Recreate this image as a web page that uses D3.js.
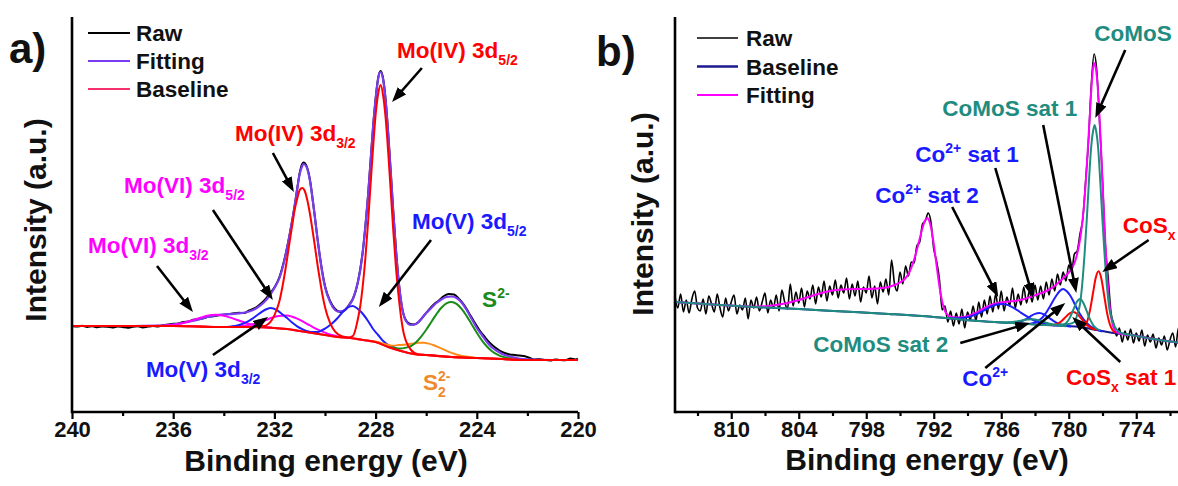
<!DOCTYPE html>
<html><head><meta charset="utf-8">
<script src="https://cdn.jsdelivr.net/npm/d3@7"></script>
<style>
html,body{margin:0;padding:0;background:#fff;}
svg{display:block;}
</style></head><body>
<svg id="chart" width="1178" height="486"></svg>
<script>
// ================= Panel (a): Mo 3d XPS =================
const tickMajorA = [240, 236, 232, 228, 224, 220];
const tickMinorA = [238, 234, 230, 226, 222];

const rawA = [[240,86],[239.8,85.5],[239.6,86.2],[239.4,85],[239.2,85.8],[239,84.8],[238.8,85.6],[238.6,85.2],[238.4,84.5],[238.2,85.6],[238,85],[237.8,84.2],[237.6,85.3],[237.4,85.8],[237.2,84.6],[237,85.4],[236.8,86],[236.6,85.5],[236.4,86.8],[236.2,87.5],[236,88.2],[235.8,88.6],[235.6,90],[235.4,90.6],[235.2,92.2],[235,93],[234.8,93.8],[234.6,95.4],[234.4,95.8],[234.2,96.8],[234,97.2],[233.8,97.9],[233.6,98.7],[233.4,99.2],[233.2,99],[233,101.5],[232.8,103.5],[232.6,107],[232.4,111.5],[232.2,118],[232,124.5],[231.8,135],[231.6,153],[231.4,177],[231.2,206],[231.1,223],[231,239],[230.9,248],[230.85,249.5],[230.8,249],[230.7,244],[230.6,233],[230.5,215],[230.4,195],[230.3,174],[230.2,155],[230.1,139],[230,126],[229.8,111],[229.6,103],[229.4,100],[229.2,102],[229,109],[228.9,113],[228.7,130],[228.5,162],[228.3,216],[228.1,285],[228,313],[227.9,334],[227.8,341],[227.7,333],[227.6,311],[227.5,278],[227.3,200],[227.1,134],[226.9,98],[226.7,89],[226.5,87.5],[226.3,90],[226.1,96],[225.9,102],[225.7,107.5],[225.5,111.5],[225.3,116],[225.1,118],[224.9,117.5],[224.7,113],[224.5,107],[224.3,98.5],[224.1,90],[223.9,82],[223.7,75.5],[223.5,69.5],[223.3,65],[223.1,61.5],[222.9,59],[222.7,57.5],[222.5,57],[222.3,56.5],[222.1,55.8],[221.9,54],[221.7,52.5],[221.5,52.8],[221.3,52],[221.1,51.5],[220.9,52.5],[220.7,52],[220.5,51.8],[220.3,53.5],[220.1,52.6],[220,53]];

const fitA = [[240,86],[238,86],[236.6,86.3],[236.2,87],[235.8,88.2],[235.4,90.2],[235,92.4],[234.6,95.2],[234.2,97.2],[233.8,97.8],[233.4,98.6],[233,100.5],[232.7,104],[232.4,110],[232.2,116],[232,124],[231.8,134],[231.6,152],[231.4,177],[231.2,206],[231.1,223],[231,238],[230.9,246],[230.85,248],[230.75,246],[230.6,232],[230.5,215],[230.4,195],[230.3,174],[230.2,155],[230.1,138],[230,125],[229.8,110],[229.6,102],[229.5,100.5],[229.3,101],[229.1,105],[228.9,113],[228.7,130],[228.6,143],[228.5,162],[228.4,187],[228.3,216],[228.2,250],[228.1,285],[228,313],[227.9,333],[227.85,339],[227.8,340],[227.7,332],[227.6,311],[227.5,278],[227.4,240],[227.3,200],[227.2,163],[227.1,134],[227,112],[226.9,98],[226.8,91],[226.6,87],[226.4,88],[226.2,93],[226,99],[225.8,104],[225.6,109],[225.4,112.5],[225.2,115],[225,115.5],[224.8,114],[224.6,109.5],[224.4,102],[224.2,93],[224,84],[223.8,77],[223.6,70],[223.4,64.5],[223.2,61],[223,58],[222.6,55],[222.2,53],[221,52],[220,52]];

const baseA = [[240,86],[236,86],[234,85],[233,85],[232,84],[231.5,83],[231,81],[230.5,79],[230,77],[229.5,75],[229,74],[228.5,72],[228,70],[227.5,65],[227,61],[226.5,58],[226,57],[225,55],[224,54],[223,53],[222,52],[220,52]];

const moIV52 = [[229.1,74.5],[228.9,76],[228.7,93],[228.6,107],[228.5,128],[228.4,155],[228.3,189],[228.2,227],[228.1,264],[228,297],[227.9,318],[227.8,327],[227.7,316],[227.6,293],[227.5,259],[227.4,220],[227.3,181],[227.2,146],[227.1,118],[227,96],[226.9,80],[226.8,71],[226.6,62],[226.3,57.5]];
const moIV32 = [[232.4,86],[232.3,87],[232.1,92],[231.9,103],[231.8,111],[231.7,123],[231.6,137],[231.5,153],[231.4,170],[231.3,186],[231.2,202],[231.1,213],[231,222],[230.9,224],[230.8,221],[230.7,212],[230.6,199],[230.5,183],[230.4,166],[230.3,148],[230.2,132],[230.1,117],[230,105],[229.9,96],[229.7,84],[229.5,78],[229.3,75.5]];
const moV52 = [[230.7,80],[230.5,80],[230.3,80],[230.1,82],[229.9,85],[229.7,89],[229.5,94],[229.3,100],[229.1,104.5],[228.9,106],[228.7,103],[228.5,98],[228.3,91],[228.1,83],[227.9,77],[227.7,71],[227.5,67],[227.3,65],[227.1,62]];
const moV32 = [[233.9,85],[233.7,85.6],[233.5,86.3],[233.3,87.7],[233.1,89.8],[232.9,92.8],[232.7,96.5],[232.5,100.2],[232.3,103],[232.15,104],[231.9,101.9],[231.7,98],[231.5,94],[231.3,89.5],[231.1,85.7],[230.9,82.9],[230.7,80.8],[230.5,79.5]];
const moVI52 = [[233.7,85.3],[233.5,85.6],[233.3,86.1],[233.1,86.8],[232.9,87.5],[232.7,88.8],[232.5,90.4],[232.3,92.3],[232.1,94.2],[231.9,95.7],[231.7,96.3],[231.5,96.5],[231.3,95.3],[231.1,93.3],[230.9,90.8],[230.7,88],[230.5,85.2],[230.3,82.6],[230.1,80.3],[229.9,78.4],[229.7,76.9],[229.5,75.6],[229.3,74.9]];
const moVI32 = [[236.7,86.1],[236.5,86.3],[236.3,86.5],[236.1,87],[235.9,87.6],[235.7,88.5],[235.5,89.7],[235.3,91.2],[235.1,92.9],[234.9,94.5],[234.7,96],[234.5,96.9],[234.3,97.2],[234.1,96.7],[233.9,95.6],[233.7,94.1],[233.5,92.3],[233.3,90.5],[233.1,88.9],[232.9,87.5],[232.7,86.3],[232.5,85.5],[232.3,84.8],[232.1,84.4]];
const sulfide = [[227.4,64.8],[227.2,63.8],[227,63.4],[226.8,64.4],[226.6,66],[226.4,69.7],[226.2,75.3],[226,82.2],[225.8,90],[225.6,97.7],[225.4,104.3],[225.2,108.7],[225,110],[224.8,108.1],[224.6,103.1],[224.4,95.9],[224.2,87.6],[224,79.2],[223.8,71.7],[223.6,65.5],[223.4,60.8],[223.2,57.6],[223,55.4],[222.8,54.1],[222.6,53.2]];
const disulfide = [[228.1,70.7],[227.9,69.7],[227.7,68.2],[227.5,67.1],[227.3,66.3],[227.1,66.9],[226.9,67.2],[226.7,67.9],[226.5,68.4],[226.3,69.2],[226.1,69.2],[225.9,68.4],[225.7,66.8],[225.5,64.7],[225.3,62.4],[225.1,60.1],[224.9,58.2],[224.7,56.8],[224.5,55.7],[224.3,55],[224.1,54.4]];

const legendA = ["Raw", "Fitting", "Baseline"];
// annotations (text anchor / arrow tail & head in data units: eV, a.u.)
const labelsA = [
  {t:"Mo(IV) 3d_{5/2}", at:[227.15,354], c:"#ff0000"},
  {t:"Mo(IV) 3d_{3/2}", at:[233.56,271], c:"#ff0000"},
  {t:"Mo(VI) 3d_{5/2}", at:[237.94,219], c:"#ff00ff"},
  {t:"Mo(VI) 3d_{3/2}", at:[239.37,159], c:"#ff00ff"},
  {t:"Mo(V) 3d_{3/2}", at:[237.08,35], c:"#1a1aff"},
  {t:"Mo(V) 3d_{5/2}", at:[226.56,183], c:"#1a1aff"},
  {t:"S^{2-}", at:[223.79,105], c:"#1a8a1a"},
  {t:"S_{2}^{2-}", at:[226.13,22], c:"#f0892a"}
];
const arrowsA = [
  {from:[226.17,344], to:[227.35,310]},
  {from:[232.06,259], to:[231.23,220]},
  {from:[234.43,202], to:[232.06,112]},
  {from:[236.64,146], to:[235.22,100]},
  {from:[234.43,57],  to:[232.25,95]},
  {from:[225.81,172], to:[227.87,105]}
];

// ================= Panel (b): Co 2p XPS =================
const tickMajorB = [810, 804, 798, 792, 786, 780, 774];
const tickMinorB = [813, 807, 801, 795, 789, 783, 777, 771];

const rawB = [[815,116],[814.75,104],[814.5,118],[814.25,100],[814,112],[813.75,99],[813.5,113],[813.25,121],[813,104],[812.75,101],[812.5,113],[812.25,98],[812,116],[811.75,108],[811.5,100],[811.25,118],[811,104],[810.75,95],[810.5,114],[810.25,101],[810,110],[809.75,117],[809.5,98],[809.25,107],[809,102],[808.75,114],[808.5,93],[808.25,112],[808,104],[807.75,115],[807.5,101],[807.25,110],[807,119],[806.75,99],[806.5,112],[806.25,104],[806,117],[805.75,101],[805.5,122],[805.25,110],[805,103],[804.75,128],[804.5,106],[804.25,120],[804,109],[803.75,124],[803.5,105],[803.25,121],[803,113],[802.75,127],[802.5,108],[802.25,125],[802,115],[801.75,131],[801.5,111],[801.25,126],[801,117],[800.75,132],[800.5,114],[800.25,127],[800,119],[799.75,134],[799.5,113],[799.25,128],[799,116],[798.75,131],[798.5,110],[798.25,125],[798,119],[797.75,136],[797.5,114],[797.25,126],[797,108],[796.75,130],[796.5,120],[796.25,133],[796,117],[795.75,152],[795.5,129],[795.25,121],[795,140],[794.75,128],[794.5,146],[794.25,136],[794,150],[793.75,149],[793.5,166],[793.25,170],[793,188],[792.75,191],[792.5,199],[792.25,190],[792,163],[791.75,151],[791.5,133],[791.25,102],[791,106],[790.75,90],[790.5,101],[790.25,86],[790,99],[789.75,88],[789.5,103],[789.25,84],[789,100],[788.75,92],[788.5,106],[788.25,91],[788,110],[787.75,95],[787.5,112],[787.25,98],[787,116],[786.75,100],[786.5,118],[786.25,103],[786,121],[785.75,101],[785.5,115],[785.25,106],[785,124],[784.75,104],[784.5,118],[784.25,107],[784,125],[783.75,109],[783.5,121],[783.25,110],[783,127],[782.75,112],[782.5,126],[782.25,113],[782,130],[781.75,117],[781.5,133],[781.25,121],[781,138],[780.75,127],[780.5,140],[780.25,131],[780,147],[779.75,140],[779.5,158],[779.25,161],[779,178],[778.75,193],[778.5,231],[778.25,270],[778,326],[777.75,358],[777.5,340],[777.25,288],[777,232],[776.75,167],[776.5,135],[776.25,100],[776,88],[775.75,76],[775.5,84],[775.25,70],[775,81],[774.75,72],[774.5,83],[774.25,69],[774,79],[773.75,71],[773.5,82],[773.25,66],[773,77],[772.75,70],[772.5,78],[772.25,64],[772,74],[771.75,67],[771.5,76],[771.25,62],[771,72],[770.75,79],[770.5,65],[770.25,84],[770,70]];

const fitB = [[815,110],[811,107],[808,105.3],[807,105.8],[806,107],[805,109],[804,112],[803,115.5],[802,119],[801,121.5],[800,122.5],[799,123],[798,123],[797,123.5],[796,125],[795.5,127],[795,129.5],[794.5,134],[794.2,139],[793.9,147],[793.6,158],[793.3,171],[793,184],[792.8,191],[792.6,194],[792.4,191],[792.2,182],[792,168],[791.8,151],[791.6,134],[791.4,119],[791.2,108],[791,101],[790.7,96.5],[790.3,94.8],[789.8,94.5],[789.3,95],[788.8,96.5],[788.3,99],[787.8,102],[787.3,105],[786.8,107.5],[786.3,109],[785.8,110],[785.3,110.5],[784.8,111],[784.3,112],[783.8,113.5],[783.3,115.5],[782.8,117.5],[782.3,119.5],[781.9,121.5],[781.5,124],[781.1,127.5],[780.7,131.5],[780.3,136],[780,139.5],[779.7,144],[779.4,152],[779.1,166],[778.9,180],[778.7,200],[778.5,228],[778.3,264],[778.1,302],[777.95,330],[777.85,343],[777.75,349],[777.65,347],[777.5,335],[777.35,312],[777.2,280],[777.05,243],[776.9,205],[776.75,170],[776.6,140],[776.45,116],[776.3,100],[776.15,90],[776,84],[775.7,79.5],[775.3,78],[774.5,77],[772.5,73],[770,69]];

const baseB = [[815,110],[811,107],[808,105],[804,103],[800,100.5],[796,98],[792,95],[790,93],[788,91],[785,89],[782,87],[779,85],[777.5,82],[776,79],[774.5,77],[772.5,73],[770,69]];

const co2sat2 = [[790.9,94],[790.4,93.8],[789.9,93.7],[789.4,94.1],[788.9,95.1],[788.4,96.9],[787.9,99.4],[787.4,102.5],[786.9,105.5],[786.4,107.5],[785.9,108.1],[785.4,106.9],[784.9,104.1],[784.4,100.5],[783.9,96.8],[783.4,93.4],[782.9,90.8],[782.4,89],[781.9,87.7],[781.4,87],[780.9,86.4]];
const co2sat1 = [[785.4,89.4],[785,89.3],[784.6,89.7],[784.2,90.9],[783.8,92.9],[783.4,95.7],[783,98.1],[782.6,98.9],[782.2,97.5],[781.8,94.6],[781.4,91.3],[781,88.7],[780.6,87.1],[780.2,86.1],[779.8,85.6]];
const co2main = [[783.5,88],[783,89.5],[782.6,92],[782.3,95],[782,99.5],[781.7,105],[781.4,111],[781.1,116.5],[780.8,121],[780.5,123],[780.2,121],[779.9,117],[779.6,111],[779.3,104],[779,98],[778.7,93],[778.4,89],[778.1,86],[777.8,84],[777.4,82],[777,80.5]];
const comosSat2 = [[786.2,89.85],[785.7,89.7],[785.2,89.8],[784.7,90.4],[784.2,91.5],[783.7,92.5],[783.2,92.8],[782.7,91.9],[782.2,90.1],[781.7,88.4],[781.2,87.2],[780.7,86.3],[780.2,85.85]];
const comosSat1 = [[780.8,86.2],[780.5,86.9],[780.2,89.3],[779.9,94.4],[779.6,102.2],[779.3,109.7],[779,113],[778.7,109.1],[778.4,100.8],[778.1,92.3],[777.8,86.4],[777.5,83.2],[777.2,81.7]];
const comosMain = [[780,88],[779.5,90],[779.2,99],[779,108],[778.8,128],[778.6,157],[778.4,192],[778.2,232],[778,266],[777.85,280],[777.7,287],[777.55,280],[777.4,266],[777.2,231],[777,191],[776.8,155],[776.6,125],[776.4,104],[776.2,94],[775.9,85],[775.5,80],[775,78]];
const cosxMain = [[778.85,84.7],[778.6,86.2],[778.35,91.1],[778.1,102.4],[777.85,118.5],[777.6,134.3],[777.35,140.7],[777.1,133.3],[776.85,116.5],[776.6,99.4],[776.35,87.7],[776.1,81.8],[775.85,79.3]];
const cosxSat1 = [[781.7,87],[781.35,87.1],[781,88.3],[780.65,90.8],[780.3,94.7],[779.95,98.4],[779.6,99.9],[779.25,98],[778.9,93.6],[778.55,88.8],[778.2,85.4],[777.85,83.3],[777.5,82.2]];

const legendB = ["Raw", "Baseline", "Fitting"];
const labelsB = [
  {t:"CoMoS", at:[777.73,371], c:"#1f8c80"},
  {t:"CoMoS sat 1", at:[791.24,296], c:"#1f8c80"},
  {t:"Co^{2+} sat 1", at:[793.64,250], c:"#1a1aff"},
  {t:"Co^{2+} sat 2", at:[797.2,209], c:"#1a1aff"},
  {t:"CoS_{x}", at:[775.2,179], c:"#ff0000"},
  {t:"CoMoS sat 2", at:[802.71,60], c:"#1f8c80"},
  {t:"Co^{2+}", at:[789.47,26], c:"#1a1aff"},
  {t:"CoS_{x} sat 1", at:[780.25,27], c:"#ff0000"}
];
const arrowsB = [
  {from:[774.98,362], to:[777.64,294]},
  {from:[782.27,287], to:[779.33,119]},
  {from:[786.53,244], to:[783.16,114]},
  {from:[790.36,205], to:[786.27,115]},
  {from:[772.9,172],  to:[777.02,140]},
  {from:[789.64,69],  to:[783.42,89]},
  {from:[787.42,44],  to:[780.31,109]},
  {from:[775.42,50],  to:[779.69,95]}
];

// ================= Drawing =================
const FONT = '"Liberation Sans", Arial, Helvetica, sans-serif';
const svg = d3.select('#chart').attr('font-family', FONT).attr('font-weight', 'bold');
svg.append('rect').attr('width', 1178).attr('height', 486).attr('fill', '#fff');

const defs = svg.append('defs');
defs.append('marker').attr('id', 'ah').attr('viewBox', '0 0 15 11')
  .attr('markerWidth', 15).attr('markerHeight', 11).attr('refX', 7).attr('refY', 5.5)
  .attr('markerUnits', 'userSpaceOnUse').attr('orient', 'auto')
  .append('path').attr('d', 'M0,0 L15,5.5 L0,11 Z').attr('fill', '#000');

function rich(g, str, px, py, size, color) {
  const t = g.append('text').attr('x', px).attr('y', py).attr('fill', color)
    .attr('font-size', size).attr('font-weight', 'bold');
  const parts = str.split(/(_\{[^}]*\}|\^\{[^}]*\})/).filter(s => s.length);
  let cur = 0, lastSub = null;
  parts.forEach(p => {
    let txt = p, off = 0, fs = size;
    const isSub = p.startsWith('_{'), isSup = p.startsWith('^{');
    if (isSub) { txt = p.slice(2, -1); off = 0.3 * size; fs = Math.round(size * 0.62); }
    if (isSup) { txt = p.slice(2, -1); off = -0.42 * size; fs = Math.round(size * 0.62); }
    const ts = t.append('tspan').attr('font-size', fs).attr('dy', off - cur).text(txt);
    if (isSup && lastSub) ts.attr('dx', -lastSub.node().getComputedTextLength());
    lastSub = isSub ? ts : null;
    cur = off;
  });
  return t;
}

function withBackground(comp, base) {
  const hi = d3.max(comp, d => d[0]), lo = d3.min(comp, d => d[0]);
  return base.filter(d => d[0] > hi).concat(comp, base.filter(d => d[0] < lo))
    .sort((a, b) => b[0] - a[0]);
}

function arrow(g, x, y, a) {
  const x1 = x(a.from[0]), y1 = y(a.from[1]), x2 = x(a.to[0]), y2 = y(a.to[1]);
  const dx = x2 - x1, dy = y2 - y1, L = Math.hypot(dx, dy);
  g.append('line').attr('x1', x1).attr('y1', y1)
    .attr('x2', x2 - dx / L * 8).attr('y2', y2 - dy / L * 8)
    .attr('stroke', '#000').attr('stroke-width', 2.6).attr('marker-end', 'url(#ah)');
}

function axes(g, x, top, bottom, left, right, majors, minors) {
  const ax = g.append('g').attr('transform', `translate(0,${bottom})`)
    .call(d3.axisBottom(x).tickValues(majors).tickSize(7).tickSizeOuter(0).tickPadding(2).tickFormat(d3.format('d')));
  ax.select('.domain').remove();
  ax.selectAll('line').attr('stroke', '#000').attr('stroke-width', 2.2);
  ax.selectAll('text').attr('font-size', 22).attr('font-weight', 'bold').attr('fill', '#111').attr('font-family', FONT);
  const mn = g.append('g').attr('transform', `translate(0,${bottom})`)
    .call(d3.axisBottom(x).tickValues(minors).tickSize(4).tickSizeOuter(0).tickFormat(''));
  mn.select('.domain').remove();
  mn.selectAll('line').attr('stroke', '#000').attr('stroke-width', 2.2);
  g.append('line').attr('x1', left).attr('x2', right).attr('y1', bottom).attr('y2', bottom)
    .attr('stroke', '#000').attr('stroke-width', 2.6);
  g.append('line').attr('x1', left).attr('x2', left).attr('y1', top).attr('y2', bottom + 1.3)
    .attr('stroke', '#000').attr('stroke-width', 2.6);
}

function path(g, data, line, color, w) {
  g.append('path').datum(data).attr('d', line).attr('fill', 'none')
    .attr('stroke', color).attr('stroke-width', w).attr('stroke-linejoin', 'round');
}

// ---------- panel a ----------
{
  const top = 17, bottom = 412;
  const x = d3.scaleLinear().domain([240, 220]).range([72, 578]);
  const y = d3.scaleLinear().domain([0, 394]).range([bottom, bottom - 394]);
  const line = d3.line().x(d => x(d[0])).y(d => y(d[1])).curve(d3.curveMonotoneX);
  const g = svg.append('g');

  path(g, rawA, line, '#000', 2);
  path(g, baseA, line, '#f7306e', 2.2);
  path(g, fitA, line, '#7a3cf0', 2.2);
  path(g, moVI32, line, '#ff00ff', 2);
  path(g, moVI52, line, '#ff00ff', 2);
  path(g, moV32, line, '#1e1eff', 2);
  path(g, moV52, line, '#1e1eff', 2);
  path(g, disulfide, line, '#ff8c1a', 2);
  path(g, sulfide, line, '#1a8c1a', 2);
  path(g, withBackground(moIV32, baseA), line, '#ff0000', 2);
  path(g, withBackground(moIV52, baseA), line, '#ff0000', 2);

  axes(g, x, top, bottom, 72, 578, tickMajorA, tickMinorA);

  const legCols = ['#000', '#7a3cf0', '#f7306e'];
  legendA.forEach((name, i) => {
    g.append('line').attr('x1', 88).attr('x2', 130).attr('y1', 33 + i * 28).attr('y2', 33 + i * 28)
      .attr('stroke', legCols[i]).attr('stroke-width', 2.2);
    g.append('text').attr('x', 136).attr('y', 41 + i * 28).attr('font-size', 22.5).attr('fill', '#111').text(name);
  });

  labelsA.forEach(l => rich(g, l.t, x(l.at[0]), y(l.at[1]), 22.5, l.c));
  arrowsA.forEach(a => arrow(g, x, y, a));

  g.append('text').attr('x', 326).attr('y', 471).attr('text-anchor', 'middle').attr('font-size', 30).attr('fill', '#111').text('Binding energy (eV)');
  g.append('text').attr('transform', 'translate(46,220) rotate(-90)').attr('text-anchor', 'middle').attr('font-size', 30).attr('fill', '#111').text('Intensity (a.u.)');
  g.append('text').attr('x', 9).attr('y', 63).attr('font-size', 42).attr('fill', '#111').text('a)');
}

// ---------- panel b ----------
{
  const top = 17, bottom = 412;
  const x = d3.scaleLinear().domain([815, 770]).range([675, 1181.25]);
  const y = d3.scaleLinear().domain([0, 394]).range([bottom, bottom - 394]);
  const line = d3.line().x(d => x(d[0])).y(d => y(d[1])).curve(d3.curveMonotoneX);
  const g = svg.append('g');

  path(g, rawB, line, '#000', 1.6);
  path(g, baseB, line, '#1a1a8c', 2);
  path(g, fitB, line, '#ff00ff', 2);
  path(g, co2sat2, line, '#1e1eff', 2);
  path(g, co2sat1, line, '#1e1eff', 2);
  path(g, co2main, line, '#1e1eff', 2);
  path(g, cosxSat1, line, '#ff0000', 2);
  path(g, cosxMain, line, '#ff0000', 2);
  path(g, comosSat2, line, '#1f8c80', 2);
  path(g, comosSat1, line, '#1f8c80', 2);
  path(g, withBackground(comosMain, baseB), line, '#1f8c80', 2);

  axes(g, x, top, bottom, 675, 1178, tickMajorB, tickMinorB);

  const legCols = ['#000', '#1a1a8c', '#ff00ff'];
  const legW = [1.6, 2.6, 2.2];
  legendB.forEach((name, i) => {
    g.append('line').attr('x1', 697).attr('x2', 738).attr('y1', 38 + i * 28.5).attr('y2', 38 + i * 28.5)
      .attr('stroke', legCols[i]).attr('stroke-width', legW[i]);
    g.append('text').attr('x', 746).attr('y', 46 + i * 28.5).attr('font-size', 22.5).attr('fill', '#111').text(name);
  });

  labelsB.forEach(l => rich(g, l.t, x(l.at[0]), y(l.at[1]), 22.5, l.c));
  arrowsB.forEach(a => arrow(g, x, y, a));

  g.append('text').attr('x', 927).attr('y', 470).attr('text-anchor', 'middle').attr('font-size', 30).attr('fill', '#111').text('Binding energy (eV)');
  g.append('text').attr('transform', 'translate(653,214) rotate(-90)').attr('text-anchor', 'middle').attr('font-size', 30).attr('fill', '#111').text('Intensity (a.u.)');
  g.append('text').attr('x', 596).attr('y', 66).attr('font-size', 42).attr('fill', '#111').text('b)');
}
</script></body></html>
